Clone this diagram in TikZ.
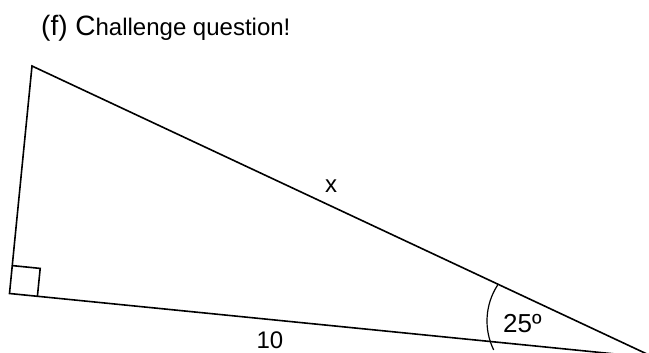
\documentclass[tikz,border=0pt]{standalone}
\usepackage{fontspec}
\setmainfont{Liberation Sans}
\begin{document}
\begin{tikzpicture}[x=1pt,y=-1pt,
  edge/.style={line width=1.6pt,line cap=round,line join=miter},
  lbl/.style={inner sep=0pt,font=\fontsize{24}{24}\selectfont}]
\useasboundingbox (0,0) rectangle (649,353);
\clip (0,0) rectangle (649,353);
\coordinate (A) at (32,66);
\coordinate (B) at (9.5,293.5);
\coordinate (C) at (655.5,358);
\coordinate (S1) at (12.3,265.6);
\coordinate (S2) at (40.2,268.4);
\coordinate (S3) at (37.4,296.3);
\draw[edge] (B) -- (A) -- (C) -- cycle;
\draw[line width=1.6pt] (S1) -- (S2) -- (S3);
\draw[line width=1.2pt] (553,321) ++(147:66pt) arc[start angle=147,end angle=206,radius=66pt];
\node[lbl,anchor=base west] (title) at (41,36)
  {{\fontsize{28}{28}\selectfont (f) C}hallenge question!};
\node[lbl,anchor=base] (lx) at (331,193) {x};
\node[lbl,anchor=base] (l10) at (270,348) {10};
\node[lbl,anchor=base west,font=\fontsize{26}{26}\selectfont] (l25) at (503,332) {25º};
\end{tikzpicture}
\end{document}
